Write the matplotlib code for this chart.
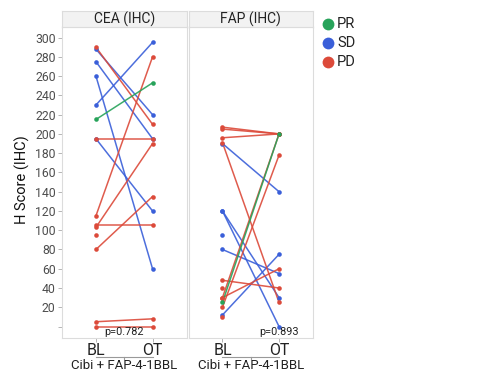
import numpy as np
import matplotlib
matplotlib.use("Agg")
import matplotlib.pyplot as plt
from matplotlib.lines import Line2D

plt.rcParams['font.family'] = ['Roboto', 'DejaVu Sans']

nan = np.nan

# CEA (IHC) panel: baseline / on-treatment H scores and response
cea_bl = [215, 230, 288, 275, 260, 195, 290, 195, 115, 103, 105, 95, 80, 5, 0]
cea_ot = [253, 295, 220, 195, 60, 120, 210, 195, 280, 190, 105, nan, 135, 8, 0]
cea_resp = ['PR', 'SD', 'SD', 'SD', 'SD', 'SD',
            'PD', 'PD', 'PD', 'PD', 'PD', 'PD', 'PD', 'PD', 'PD']

# FAP (IHC) panel
fap_bl = [25, 190, 120, 120, 95, 80, 12, 207, 205, 196, 191, 48, 40, 30, 30, 20, 10]
fap_ot = [200, 140, 30, 0, nan, 55, 75, 200, 200, 200, 25, 40, nan, 60, 200, 178, nan]
fap_resp = ['PR', 'SD', 'SD', 'SD', 'SD', 'SD', 'SD',
            'PD', 'PD', 'PD', 'PD', 'PD', 'PD', 'PD', 'PD', 'PD', 'PD']

panels = ['CEA (IHC)', 'FAP (IHC)']
pvals = ['p=0.782', 'p=0.893']
timepoints = ['BL', 'OT']
group_label = 'Cibi + FAP-4-1BBL'
y_ticks = list(range(0, 301, 20))
responses = ['PR', 'SD', 'PD']
colors = {'PR': '#27a35a', 'SD': '#3a5fd9', 'PD': '#dc4a3a'}

W, H = 500, 373
fig = plt.figure(figsize=(W / 100, H / 100), dpi=100)

def px_axes(left, top, width, height):
    return fig.add_axes([left / W, 1 - (top + height) / H, width / W, height / H])

panel_top, panel_bot = 27, 338.3
strip_top = 11
data = [(cea_bl, cea_ot, cea_resp), (fap_bl, fap_ot, fap_resp)]
lefts = [62, 188.5]
pw = 124.5
border = '#dcdcdc'

for i, (bl, ot, resp) in enumerate(data):
    ax = px_axes(lefts[i], panel_top, pw, panel_bot - panel_top)
    ax.set_xlim(0.4, 2.6)
    ax.set_ylim(-12.2, 311)
    for s in ax.spines.values():
        s.set_color(border)
        s.set_linewidth(0.8)

    # draw lines, then points
    for r in ['SD', 'PD', 'PR']:
        for b, o, rr in zip(bl, ot, resp):
            if rr != r:
                continue
            if not np.isnan(o):
                ax.plot([1, 2], [b, o], color=colors[r], lw=1.1, alpha=0.9, zorder=2)
    for r in ['SD', 'PD', 'PR']:
        for b, o, rr in zip(bl, ot, resp):
            if rr != r:
                continue
            ax.plot([1], [b], 'o', color=colors[r], ms=3.3, mec='none', zorder=3)
            if not np.isnan(o):
                ax.plot([2], [o], 'o', color=colors[r], ms=3.3, mec='none', zorder=3)

    ax.set_xticks([1, 2])
    ax.set_xticklabels(timepoints, fontsize=11.5, color='#222222')
    ax.tick_params(axis='x', length=3, width=0.6, color='#aaaaaa', pad=0.5)
    if i == 0:
        ax.set_yticks(y_ticks)
        ax.set_yticklabels(['' if t == 0 else str(t) for t in y_ticks],
                           fontsize=8.8, color='#4d4d4d')
        ax.tick_params(axis='y', length=3, width=0.6, color='#aaaaaa', pad=1.5)
    else:
        ax.set_yticks([])

    # p value
    px = 1.5 if i == 0 else 2.0
    ax.text(px, -5.6, pvals[i], ha='center', va='center', fontsize=7.8, color='#222222')

    # nested x-axis label with bracket
    tr = ax.get_xaxis_transform()
    yb = -0.0615
    ax.plot([1, 2], [yb, yb], color='#999999', lw=0.8, transform=tr, clip_on=False)
    ax.plot([1.5, 1.5], [yb, yb - 0.006], color='#999999', lw=0.8, transform=tr, clip_on=False)
    ax.text(1.5, -0.087, group_label, ha='center', va='center', fontsize=9.5,
            color='#222222', transform=tr)

    # facet strip
    sax = px_axes(lefts[i], strip_top, pw, panel_top - strip_top)
    sax.set_xticks([])
    sax.set_yticks([])
    sax.set_facecolor('#f2f2f2')
    for s in sax.spines.values():
        s.set_color(border)
        s.set_linewidth(0.8)
    sax.text(0.5, 0.5, panels[i], ha='center', va='center', fontsize=10, color='#222222')

fig.text(22 / W, 1 - 180 / H, 'H Score (IHC)', rotation=90, ha='center', va='center',
         fontsize=10.5, color='#111111')

# legend
for k, r in enumerate(responses):
    yy = 1 - (24 + 19 * k) / H
    fig.add_artist(Line2D([328 / W], [yy], marker='o', ms=8.5, color=colors[r],
                          mec='none', transform=fig.transFigure))
    fig.text(337 / W, yy, r, ha='left', va='center', fontsize=10.5, color='#222222')

fig.savefig('out.png', dpi=100)
